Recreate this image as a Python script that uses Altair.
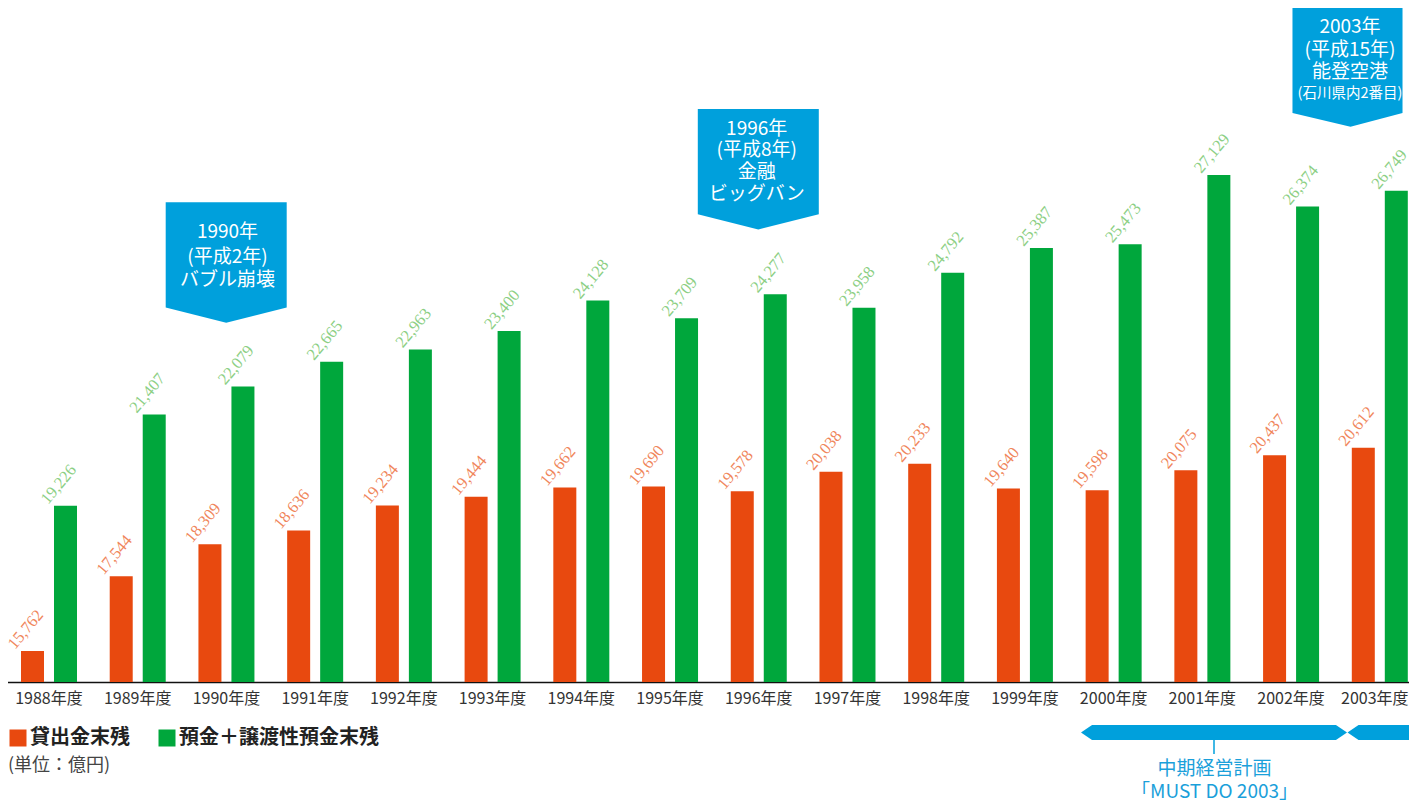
import altair as alt
import pandas as pd

years = ["1988年度", "1989年度", "1990年度", "1991年度", "1992年度", "1993年度",
         "1994年度", "1995年度", "1996年度", "1997年度", "1998年度", "1999年度",
         "2000年度", "2001年度", "2002年度", "2003年度"]
loans = [15762, 17544, 18309, 18636, 19234, 19444, 19662, 19690,
         19578, 20038, 20233, 19640, 19598, 20075, 20437, 20612]
deposits = [19226, 21407, 22079, 22665, 22963, 23400, 24128, 23709,
            24277, 23958, 24792, 25387, 25473, 27129, 26374, 26749]
series_names = ["貸出金末残", "預金＋譲渡性預金末残"]
bar_colors = ["#e8490f", "#00a73c"]
label_colors = ["#f0865c", "#8ccf84"]

rows = []
for y, a, b in zip(years, loans, deposits):
    rows.append({"year": y, "series": series_names[0], "value": a})
    rows.append({"year": y, "series": series_names[1], "value": b})
df = pd.DataFrame(rows)

BASE = 15020
TOP = 31020
BLUE = "#00a0dc"
JP = "Noto Sans CJK JP"

xscale = alt.Scale(range=[-3.36, 1416.16], paddingInner=0, paddingOuter=0)
xaxis = alt.Axis(title=None, ticks=False, labelFont=JP, labelFontSize=16,
                 labelColor="#333333", domainColor="#111111", domainWidth=1.5,
                 labelPadding=8, labelAngle=0, labelOverlap=False, labelBound=False,
                 labelOffset={"condition": {"test": "datum.value === '2003年度'", "value": -5},
                              "value": 0},
                 grid=False)
xoff = alt.XOffset("series:N", sort=series_names,
                   scale=alt.Scale(paddingInner=0.303, paddingOuter=0.4957))
yscale = alt.Scale(domain=[BASE, TOP], zero=False, nice=False)

base = alt.Chart(df)

bars = base.mark_bar().encode(
    x=alt.X("year:N", sort=years, scale=xscale, axis=xaxis),
    xOffset=xoff,
    y=alt.Y("value:Q", scale=yscale, axis=None),
    y2=alt.datum(BASE),
    color=alt.Color("series:N", sort=series_names,
                    scale=alt.Scale(domain=series_names, range=bar_colors),
                    legend=alt.Legend(title=None, orient="none", legendX=0, legendY=716,
                                      direction="horizontal", symbolType="square",
                                      symbolSize=289, symbolStrokeWidth=0,
                                      symbolOpacity=1, labelLimit=0,
                                      labelFont=JP, labelFontSize=20,
                                      labelFontWeight="bold", labelColor="#222222",
                                      labelOffset=2, columnPadding=27, padding=0)),
)

def value_labels(name, col):
    return base.transform_filter(alt.datum.series == name).mark_text(
        angle=310, align="center", baseline="middle", dx=12, dy=-19,
        font="Liberation Sans Narrow", fontSize=16.5, color=col
    ).encode(
        x=alt.X("year:N", sort=years),
        xOffset=alt.XOffset("series:N", sort=series_names),
        y=alt.Y("value:Q"),
        text=alt.Text("value:Q", format=","),
    )

lab1 = value_labels(series_names[0], label_colors[0])
lab2 = value_labels(series_names[1], label_colors[1])

# callout boxes (pixel layout of annotations)
box_path = "M-1,-1L1,-1L1,0.74L0,0.99L-1,0.74Z"
box_path_narrow = "M-0.917,-1L0.917,-1L0.917,0.76L0.05,0.99L-0.917,0.76Z"
boxes = alt.Chart(pd.DataFrame({"px": [218.2, 750.3], "py": [250.8, 157.5]})).mark_point(
    shape=box_path, filled=True, size=14641, color=BLUE, opacity=1, strokeWidth=0
).encode(x=alt.X("px:Q", scale=None), y=alt.Y("py:Q", scale=None))
box3 = alt.Chart(pd.DataFrame({"px": [1339.5], "py": [55.3]})).mark_point(
    shape=box_path_narrow, filled=True, size=14400, color=BLUE, opacity=1, strokeWidth=0
).encode(x=alt.X("px:Q", scale=None), y=alt.Y("py:Q", scale=None))

callout_text = ["1990年", "(平成2年)", "バブル崩壊",
                "1996年", "(平成8年)", "金融", "ビッグバン",
                "2003年", "(平成15年)", "能登空港"]
callout_x = [219.5, 219.5, 219.5, 748.7, 748.7, 748.7, 748.7, 1342, 1342, 1342]
callout_y = [220, 245, 268, 117, 138, 160, 182, 15, 38, 60]
callouts = alt.Chart(pd.DataFrame({"t": callout_text, "px": callout_x, "py": callout_y})).mark_text(
    font=JP, fontSize=19, color="white", align="center", baseline="middle"
).encode(x=alt.X("px:Q", scale=None), y=alt.Y("py:Q", scale=None), text="t:N")
callout_small = alt.Chart(pd.DataFrame({"t": ["(石川県内2番目)"], "px": [1342], "py": [82]})).mark_text(
    font=JP, fontSize=14.5, color="white", align="center", baseline="middle"
).encode(x=alt.X("px:Q", scale=None), y=alt.Y("py:Q", scale=None), text="t:N")

# medium-term plan arrows
arrow_path = "M-1,0L-0.917,-0.0564L0.917,-0.0564L1,0L0.917,0.0564L-0.917,0.0564Z"
arrows = alt.Chart(pd.DataFrame({"px": [1206, 1472.5], "py": [720.5, 720.5]})).mark_point(
    shape=arrow_path, filled=True, size=70756, color=BLUE, opacity=1, strokeWidth=0
).encode(x=alt.X("px:Q", scale=None), y=alt.Y("py:Q", scale=None))
tick = alt.Chart(pd.DataFrame({"a": [0]})).mark_rule(color=BLUE, strokeWidth=1.5).encode(
    x=alt.value(1206), y=alt.value(728), y2=alt.value(742))
plan_text = alt.Chart(pd.DataFrame({"t": ["中期経営計画", "「MUST DO 2003」"],
                                    "px": [1206.5, 1206.5], "py": [757, 780]})).mark_text(
    font=JP, fontSize=19, color="#1aa0da", align="center", baseline="middle"
).encode(x=alt.X("px:Q", scale=None), y=alt.Y("py:Q", scale=None), text="t:N")

unit = alt.Chart(pd.DataFrame({"t": ["(単位：億円)"]})).mark_text(
    font=JP, fontSize=18, color="#444444", align="left", baseline="middle"
).encode(x=alt.value(0), y=alt.value(754), text="t:N")

chart = alt.layer(
    bars, lab1, lab2, boxes, box3, callouts, callout_small, arrows, tick, plan_text, unit
).resolve_scale(x="shared").properties(
    width=1401, height=670,
    padding={"left": 0, "right": 0, "top": 4, "bottom": 119},
    autosize=alt.AutoSizeParams(type="none"),
).configure_view(stroke=None)

chart.save("out.html", embed_options={"renderer": "svg", "actions": False})
